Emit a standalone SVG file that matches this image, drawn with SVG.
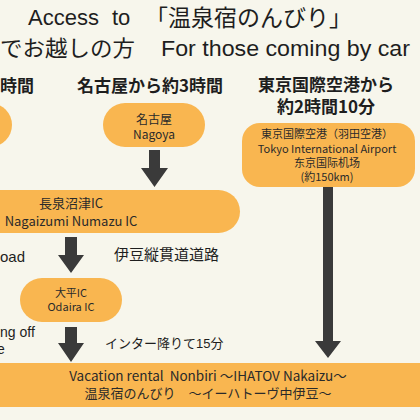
<svg xmlns="http://www.w3.org/2000/svg" width="420" height="420" viewBox="0 0 420 420">
<style>
.node{fill:#f9b650}
.t{font-family:"Liberation Sans","Noto Sans CJK JP",sans-serif;fill:#1e1e1e}
.h{font-family:"Noto Sans CJK JP",sans-serif;font-weight:bold;font-size:17px;fill:#1e1e1e}
.n{font-family:"Noto Sans CJK JP",sans-serif;fill:#2a2a2a;text-anchor:middle}
.arrow{fill:#3a3a3a}
</style>
<rect width="420" height="420" fill="#f7f6ec"/>
<g id="title">
<text class="t" x="28" y="25" font-size="22">Access</text>
<text class="t" x="112" y="25" font-size="22">to</text>
<text class="t" x="145" y="26" font-size="23">「温泉宿のんびり」</text>
<text class="t" x="0" y="56" font-size="22" textLength="135" lengthAdjust="spacingAndGlyphs">でお越しの方</text>
<text class="t" x="161" y="56" font-size="22" textLength="249" lengthAdjust="spacingAndGlyphs">For those coming by car</text>
</g>
<g id="headers">
<text class="h" x="0" y="92">時間</text>
<text class="h" x="150" y="92" text-anchor="middle">名古屋から約3時間</text>
<text class="h" x="326" y="91" text-anchor="middle">東京国際空港から</text>
<text class="h" x="326" y="113" text-anchor="middle">約2時間10分</text>
</g>
<g id="node-left">
<rect class="node" x="-90" y="103" width="102" height="44" rx="22"/>
</g>
<g id="node-nagoya">
<rect class="node" x="103" y="103" width="102" height="44" rx="22"/>
<text class="n" x="154" y="124" font-size="12">名古屋</text>
<text class="n" x="154" y="139" font-size="12">Nagoya</text>
</g>
<g id="node-haneda">
<rect class="node" x="242" y="123" width="173" height="64" rx="18"/>
<text class="n" x="327" y="138" font-size="11">東京国際空港（羽田空港）</text>
<text class="n" x="327" y="153" font-size="11">Tokyo International Airport</text>
<text class="n" x="327" y="167" font-size="11">东京国际机场</text>
<text class="n" x="327" y="181" font-size="11">(約150km)</text>
</g>
<g id="node-nagaizumi">
<rect class="node" x="-60" y="190" width="300" height="43" rx="21.5"/>
<text class="n" x="71" y="208" font-size="13">長泉沼津IC</text>
<text class="n" x="71" y="226" font-size="13">Nagaizumi Numazu IC</text>
</g>
<g id="node-odaira">
<rect class="node" x="20" y="278" width="102" height="44" rx="22"/>
<text class="n" x="71" y="297" font-size="11">大平IC</text>
<text class="n" x="71" y="311" font-size="11">Odaira IC</text>
</g>
<g id="node-destination">
<rect class="node" x="0" y="363" width="420" height="44"/>
<text class="n" x="208" y="381" font-size="13.5" xml:space="preserve">Vacation rental  Nonbiri ～IHATOV Nakaizu～</text>
<text class="n" x="208" y="398" font-size="13">温泉宿のんびり　～イーハトーヴ中伊豆～</text>
</g>
<g id="labels">
<text class="t" x="0" y="262" font-size="15">oad</text>
<text class="t" x="114" y="260" font-size="15">伊豆縦貫道道路</text>
<text class="t" x="0" y="337" font-size="14">ng off</text>
<text class="t" x="-3" y="354" font-size="14">e</text>
<text class="t" x="105" y="348" font-size="13">インター降りて15分</text>
</g>
<g id="connectors">
<polygon class="arrow" points="149,150 160,150 160,168 168,168 154.5,187 141,168 149,168"/>
<polygon class="arrow" points="65,237 77,237 77,255 84,255 71,273 58,255 65,255"/>
<polygon class="arrow" points="65,327 77,327 77,343 84,343 71,362 58,343 65,343"/>
<polygon class="arrow" points="323,187 333,187 333,341 341,341 328,358 315,341 323,341"/>
</g>
</svg>
